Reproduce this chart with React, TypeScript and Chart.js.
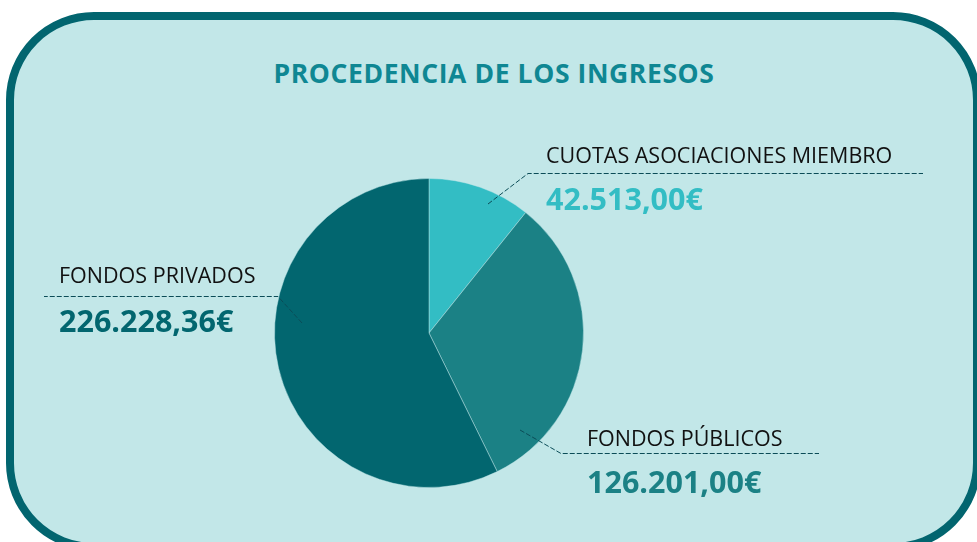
import { useEffect, useRef } from 'react';
import { Chart, registerables } from 'chart.js';

Chart.register(...registerables);

const chartTitle = 'PROCEDENCIA DE LOS INGRESOS';
const categories = ['CUOTAS ASOCIACIONES MIEMBRO', 'FONDOS PÚBLICOS', 'FONDOS PRIVADOS'];
const amounts = [42513.0, 126201.0, 226228.36];
const sliceColors = ['#33bdc4', '#1b8185', '#02666f'];

function formatEuro(v: number): string {
  const [intPart, dec] = v.toFixed(2).split('.');
  const grouped = intPart.replace(/\B(?=(\d{3})+(?!\d))/g, '.');
  return `${grouped},${dec}€`;
}

// callout geometry, in pixels relative to the pie centre
const callouts = [
  { anchor: [59, -129], elbow: [99, -160], end: 494, textX: 117, labelY: -170, valueY: -123 },
  { anchor: [91, 97], elbow: [132, 120], end: 390, textX: 158, labelY: 113, valueY: 160 },
  { anchor: [-127, -10], elbow: [-151, -37], end: -385, textX: -370, labelY: -50, valueY: -1 },
];

const calloutPlugin = {
  id: 'callouts',
  afterDraw(chart: any) {
    const meta = chart.getDatasetMeta(0);
    if (!meta || !meta.data.length) return;
    const arc = meta.data[0];
    const cx = arc.x;
    const cy = arc.y;
    const ctx = chart.ctx as CanvasRenderingContext2D;
    ctx.save();
    callouts.forEach((c, i) => {
      const ly = Math.round(cy + c.elbow[1]) + 0.5;
      ctx.beginPath();
      ctx.setLineDash([5, 2]);
      ctx.lineWidth = 1;
      ctx.strokeStyle = '#0b4c57';
      ctx.moveTo(cx + c.anchor[0], cy + c.anchor[1]);
      ctx.lineTo(cx + c.elbow[0], ly);
      ctx.lineTo(cx + c.end, ly);
      ctx.stroke();
      ctx.setLineDash([]);
      ctx.textAlign = 'left';
      ctx.textBaseline = 'alphabetic';
      ctx.fillStyle = '#111111';
      ctx.font = '21.5px "Open Sans"';
      ctx.fillText(categories[i], cx + c.textX, cy + c.labelY);
      ctx.fillStyle = sliceColors[i];
      ctx.font = 'bold 30.5px "Open Sans"';
      ctx.fillText(formatEuro(amounts[i]), cx + c.textX, cy + c.valueY);
    });
    ctx.restore();
  },
};

export default function App() {
  const canvasRef = useRef<HTMLCanvasElement | null>(null);

  useEffect(() => {
    if (!canvasRef.current) return;
    const chart = new Chart(canvasRef.current, {
      type: 'pie',
      data: {
        labels: categories,
        datasets: [
          {
            data: amounts,
            backgroundColor: sliceColors,
            borderColor: 'rgba(194,231,232,0.45)',
            borderWidth: 1,
          },
        ],
      },
      options: {
        responsive: false,
        devicePixelRatio: 1,
        animation: false,
        events: [],
        layout: { padding: { left: 274, right: 393, top: 178, bottom: 54 } },
        plugins: {
          legend: { display: false },
          tooltip: { enabled: false },
          title: { display: false },
        },
      },
      plugins: [calloutPlugin],
    });
    return () => chart.destroy();
  }, []);

  return (
    <div
      style={{
        position: 'fixed',
        left: 0,
        top: 0,
        width: 977,
        height: 542,
        overflow: 'hidden',
        background: '#ffffff',
      }}
    >
      <div
        style={{
          position: 'absolute',
          left: 6,
          top: 12,
          width: 975,
          height: 539,
          boxSizing: 'border-box',
          border: '8px solid #02656f',
          borderRadius: 88,
          background: '#c2e7e8',
        }}
      />
      <div
        style={{
          position: 'absolute',
          left: 6,
          top: 55,
          width: 976,
          textAlign: 'center',
          fontFamily: '"Open Sans", sans-serif',
          fontWeight: 700,
          fontSize: 26.5,
          lineHeight: '36px',
          letterSpacing: 0.6,
          color: '#0f8793',
        }}
      >
        {chartTitle}
      </div>
      <canvas
        ref={canvasRef}
        width={977}
        height={542}
        style={{ position: 'absolute', left: 0, top: 0, width: 977, height: 542 }}
      />
    </div>
  );
}
